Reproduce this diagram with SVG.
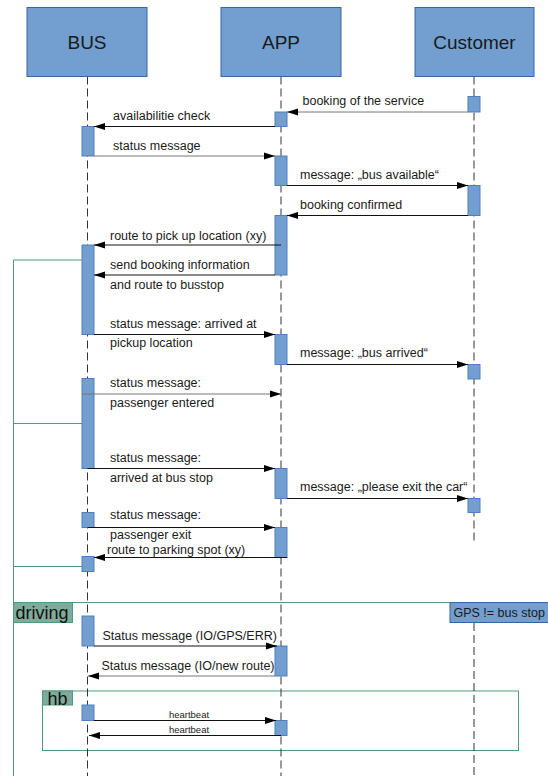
<svg xmlns="http://www.w3.org/2000/svg" width="548" height="776" viewBox="0 0 548 776">
  <defs>
    <marker id="arrow" markerUnits="userSpaceOnUse" markerWidth="12" markerHeight="8" refX="11" refY="4" orient="auto">
      <path d="M0,0.5 L11,4 L0,7.5 Z" fill="#000"/>
    </marker>
    <style>
      .head { fill: #729fcf; stroke: #3465a4; stroke-width: 1; }
      .head-text { font-family: "Liberation Sans", Arial, sans-serif; font-size: 19px; fill: #1a1a1a; text-anchor: middle; }
      .life { stroke: #333; stroke-width: 1; stroke-dasharray: 8 4; fill: none; }
      .act { fill: #729fcf; stroke: #4f7fbf; stroke-width: 1; }
      .msg { stroke: #111; stroke-width: 1; fill: none; marker-end: url(#arrow); }
      .msg.gray { stroke: #777; }
      .lbl { font-family: "Liberation Sans", Arial, sans-serif; font-size: 12.5px; fill: #1a1a1a; }
      .small { font-family: "Liberation Sans", Arial, sans-serif; font-size: 9.5px; fill: #1a1a1a; text-anchor: middle; }
      .frame { stroke: #4e9a7a; stroke-width: 1; fill: none; }
      .tag { fill: #7fab9b; stroke: #4e9a7a; stroke-width: 1; }
      .tag-text { font-family: "Liberation Sans", Arial, sans-serif; font-size: 18px; fill: #111; }
    </style>
  </defs>

  <rect width="548" height="776" fill="#fff"/>

  <!-- fragments and guard lines -->
  <g id="fragments">
    <path class="frame" d="M90,260 H13.5 V776 M13.5,423.5 H82 M13.5,566.5 H87.5 M13.5,602.5 H548"/>
    <rect class="frame" x="42.5" y="691" width="476" height="59.5"/>
  </g>

  <!-- BUS -->
  <g id="bus">
    <line class="life" x1="87.5" y1="76.5" x2="87.5" y2="776"/>
    <rect class="head" x="27" y="7.5" width="120" height="69"/>
    <text class="head-text" x="87" y="49">BUS</text>
    <rect class="act" x="82" y="126.5" width="12" height="29.5"/>
    <rect class="act" x="82" y="245" width="12" height="89.5"/>
    <rect class="act" x="82" y="378.5" width="12" height="90"/>
    <rect class="act" x="82" y="512.5" width="12" height="15"/>
    <rect class="act" x="82" y="556.5" width="12" height="15"/>
    <rect class="act" x="82" y="616" width="12" height="30"/>
    <rect class="act" x="82" y="705" width="12" height="15.5"/>
  </g>

  <!-- APP -->
  <g id="app">
    <line class="life" x1="281" y1="76.5" x2="281" y2="776"/>
    <rect class="head" x="221" y="7.5" width="120" height="69"/>
    <text class="head-text" x="281" y="49">APP</text>
    <rect class="act" x="275" y="112" width="12" height="14.5"/>
    <rect class="act" x="275" y="156" width="12" height="29.5"/>
    <rect class="act" x="275" y="215.5" width="12" height="59.5"/>
    <rect class="act" x="275" y="334.5" width="12" height="30"/>
    <rect class="act" x="275" y="468.5" width="12" height="30"/>
    <rect class="act" x="275" y="527.5" width="12" height="30"/>
    <rect class="act" x="275" y="646" width="12" height="30"/>
    <rect class="act" x="275" y="720.5" width="12" height="15"/>
  </g>

  <!-- Customer -->
  <g id="customer">
    <line class="life" x1="474" y1="76.5" x2="474" y2="543"/>
    <line class="life" x1="474" y1="623" x2="474" y2="776"/>
    <rect class="head" x="415" y="7.5" width="119" height="69"/>
    <text class="head-text" x="474.5" y="49">Customer</text>
    <rect class="act" x="468" y="96.5" width="12" height="15.5"/>
    <rect class="act" x="468" y="185.5" width="12" height="30"/>
    <rect class="act" x="468" y="364.5" width="12" height="14.5"/>
    <rect class="act" x="468" y="498.5" width="12" height="14"/>
  </g>

  <!-- fragment labels -->
  <g id="driving">
    <rect class="tag" x="13.5" y="602.5" width="59" height="20"/>
    <text class="tag-text" x="15.5" y="618.5">driving</text>
  </g>
  <g id="gps-note">
    <rect class="head" x="450" y="602.5" width="100" height="20"/>
    <text class="lbl" x="453.5" y="617">GPS != bus stop</text>
  </g>
  <g id="hb">
    <rect class="tag" x="42.5" y="691" width="30" height="14"/>
    <text class="tag-text" x="47.5" y="704.5">hb</text>
  </g>

  <!-- messages -->
  <g id="connectors">
    <line class="msg gray" x1="468" y1="112" x2="287" y2="112"/>
    <line class="msg" x1="275" y1="126.5" x2="94" y2="126.5"/>
    <line class="msg gray" x1="94" y1="156" x2="275" y2="156"/>
    <line class="msg" x1="287" y1="185.5" x2="468" y2="185.5"/>
    <line class="msg" x1="468" y1="215.5" x2="287" y2="215.5"/>
    <line class="msg" x1="281" y1="245" x2="94" y2="245"/>
    <line class="msg" x1="275" y1="275" x2="94" y2="275"/>
    <line class="msg" x1="94" y1="334.5" x2="275" y2="334.5"/>
    <line class="msg" x1="287" y1="364.5" x2="468" y2="364.5"/>
    <line class="msg gray" x1="82" y1="394" x2="281" y2="394"/>
    <line class="msg" x1="87.5" y1="468.5" x2="275" y2="468.5"/>
    <line class="msg" x1="287" y1="498.5" x2="468" y2="498.5"/>
    <line class="msg" x1="87.5" y1="527.5" x2="275" y2="527.5"/>
    <line class="msg" x1="287" y1="557.5" x2="94" y2="557.5"/>
    <line class="msg" x1="94" y1="646" x2="277" y2="646"/>
    <line class="msg gray" x1="275" y1="676" x2="88" y2="676"/>
    <line class="msg" x1="94" y1="720.5" x2="276" y2="720.5"/>
    <line class="msg" x1="281" y1="735.5" x2="89" y2="735.5"/>
  </g>

  <!-- message labels -->
  <g id="labels">
    <text class="lbl" x="302.5" y="105">booking of the service</text>
    <text class="lbl" x="113" y="119.5">availabilitie check</text>
    <text class="lbl" x="113" y="149.5">status message</text>
    <text class="lbl" x="300" y="179">message: „bus available“</text>
    <text class="lbl" x="300" y="208.5">booking confirmed</text>
    <text class="lbl" x="110" y="239.5">route to pick up location (xy)</text>
    <text class="lbl" x="110" y="268.5">send booking information</text>
    <text class="lbl" x="110" y="288.5">and route to busstop</text>
    <text class="lbl" x="110" y="327.5">status message: arrived at</text>
    <text class="lbl" x="110" y="347">pickup location</text>
    <text class="lbl" x="300" y="357">message: „bus arrived“</text>
    <text class="lbl" x="110" y="387">status message:</text>
    <text class="lbl" x="110" y="407">passenger entered</text>
    <text class="lbl" x="110" y="462">status message:</text>
    <text class="lbl" x="110" y="481.5">arrived at bus stop</text>
    <text class="lbl" x="300" y="491">message: „please exit the car“</text>
    <text class="lbl" x="110" y="518.5">status message:</text>
    <text class="lbl" x="110" y="538.5">passenger exit</text>
    <text class="lbl" x="107" y="554">route to parking spot (xy)</text>
    <text class="lbl" x="102.5" y="640">Status message (IO/GPS/ERR)</text>
    <text class="lbl" x="101.5" y="670">Status message (IO/new route)</text>
    <text class="small" x="189" y="717.5">heartbeat</text>
    <text class="small" x="189" y="732.5">heartbeat</text>
  </g>
</svg>
